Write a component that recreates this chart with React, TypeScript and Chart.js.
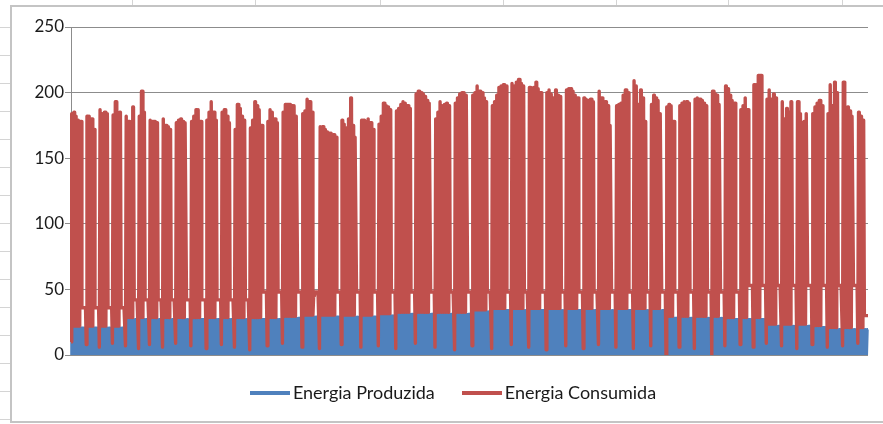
import React, { useEffect, useRef } from "react";
import { Chart, registerables } from "chart.js";

Chart.register(...registerables);

// Weekday daily peaks of consumption, one list per week
const consumoPicos: number[][] = [
  [184, 185, 182, 179, 178],
  [182, 182, 180, 172],
  [187, 184, 185, 184],
  [183, 193, 184, 185],
  [182, 178, 174, 189],
  [182, 201, 185],
  [179, 178, 178, 177],
  [180, 175, 174, 172],
  [177, 179, 180, 178, 177],
  [178, 182, 187, 187, 178],
  [179, 185, 193, 185, 179],
  [185, 187, 182, 177],
  [172, 191, 188, 182, 179],
  [173, 179, 193, 190, 187, 175],
  [178, 187, 185, 180, 177],
  [185, 191, 191, 191, 190, 190, 182],
  [184, 186, 195, 193, 185, 45],
  [174, 174, 172, 170, 169, 169, 168, 166],
  [179, 176, 173, 180, 196, 175, 166],
  [179, 179, 178, 180, 177, 172],
  [176, 182, 192, 190, 189, 187],
  [186, 188, 191, 193, 192, 190, 188],
  [199, 201, 200, 199, 197, 194, 192],
  [180, 185, 193, 190, 191, 192, 190],
  [192, 196, 199, 200, 200, 198],
  [198, 200, 205, 201, 200, 196, 193],
  [190, 193, 198, 204, 205, 206, 205],
  [207, 205, 208, 210, 207, 205],
  [204, 198, 204, 208, 203, 200],
  [200, 202, 199, 196, 202, 198, 197],
  [202, 203, 203, 201, 198, 196],
  [196, 195, 194, 195, 193],
  [201, 196, 193, 193, 190, 175],
  [190, 191, 192, 198, 202, 200],
  [209, 205, 191, 202, 196, 178],
  [191, 198, 196, 194, 184],
  [189, 191, 190, 178],
  [190, 192, 193, 193, 192],
  [195, 196, 195, 194, 192, 190],
  [201, 199, 198, 191],
  [205, 203, 198, 194, 192],
  [187, 190, 196, 187],
  [206, 206, 213, 213],
  [195, 202, 195, 199, 196],
  [193, 180, 188, 185, 193],
  [193, 184, 177, 178, 184],
  [184, 189, 192, 194, 190],
  [184, 206, 190, 208, 200],
  [208, 183, 189, 186, 182],
  [185, 182, 179],
];

// Weekday night consumption per week
const consumoVale: number[] = [
  22, 22, 22, 22, 28.5, 28.5, 28.5, 28.5, 28.5, 28.5, 28.5, 28.5, 28.5, 28.5, 28.5, 29.5, 30.5, 30.5, 30.5, 30.5,
  31.5, 32.5, 32.5, 32.5, 32.5, 34.5, 35.5, 35.5, 35.5, 35.5, 35.5, 35.5, 35.5, 35.5, 35.5, 35.5, 29.5, 29.5, 29.5, 29.5,
  28.5, 28.5, 28.5, 23.5, 23.5, 23.5, 22.5, 21, 21, 21,
];

// Deepest dip of consumption at the start of each week
const consumoMinimo: number[] = [
  10, 8, 6, 9, 7, 5, 8, 6, 9, 7, 5, 8, 6, 4, 7, 9, 6, 5, 8, 6,
  7, 5, 9, 6, 4, 7, 5, 8, 6, 4, 7, 5, 8, 6, 5, 7, 0, 6, 5, 0,
  7, 8, 6, 9, 7, 5, 8, 6, 7, 9,
];

// Weekend consumption level per week
const consumoFimSemana: number[] = [
  36, 36, 36, 36, 42, 42, 42, 42, 42, 42, 42, 42, 42, 48, 48, 48, 48, 48, 48, 48,
  48, 48, 48, 48, 48, 48, 48, 48, 48, 48, 48, 48, 48, 48, 48, 48, 48, 48, 48, 48,
  48, 53, 53, 53, 53, 53, 53, 53, 53, 30,
];

// Daily peak of produced energy per week
const producaoPico: number[] = [
  20.5, 20.5, 20.5, 20.5, 27, 27, 27, 27, 27, 27, 27, 27, 27, 27, 27, 28, 29, 29, 29, 29,
  30, 31, 31, 31, 31, 33, 34, 34, 34, 34, 34, 34, 34, 34, 34, 34, 28, 28, 28, 28,
  27, 27, 27, 22, 22, 22, 21, 19.5, 19.5, 19.5,
];

const yTicks: number[] = [0, 50, 100, 150, 200, 250];
const seriesNames: string[] = ["Energia Produzida", "Energia Consumida"];
const seriesColors: string[] = ["#4F81BD", "#C0504D"];

function buildSeries() {
  const consumo: number[] = [];
  const producao: number[] = [];
  consumoPicos.forEach((picos, w) => {
    picos.forEach((p, i) => {
      consumo.push(i === 0 ? consumoMinimo[w] : consumoVale[w], p, p);
    });
    for (let d = 0; d < 2; d++) {
      consumo.push(consumoFimSemana[w], consumoFimSemana[w], consumoFimSemana[w]);
    }
    for (let d = 0; d < picos.length + 2; d++) {
      producao.push(0, producaoPico[w], producaoPico[w]);
    }
  });
  return { consumo, producao };
}

function lineMarker(color: string): HTMLCanvasElement {
  const c = document.createElement("canvas");
  c.width = 40;
  c.height = 4;
  const g = c.getContext("2d");
  if (g) {
    g.fillStyle = color;
    g.fillRect(0, 0, 40, 4);
  }
  return c;
}

const legendShift = {
  id: "legendShift",
  afterLayout(chart: any) {
    const l = chart.legend;
    if (!l) return;
    l.left += 5;
    l.right += 5;
    l.top -= 4;
    l.bottom -= 4;
  },
};

export default function App() {
  const canvasRef = useRef<HTMLCanvasElement | null>(null);

  useEffect(() => {
    const canvas = canvasRef.current;
    if (!canvas) return;
    const { consumo, producao } = buildSeries();
    const labels = consumo.map((_, i) => String(i));
    const tickFont = { family: "Lato", size: 17 };
    const legendFont = { family: "Lato", size: 18 };
    const markers = [lineMarker(seriesColors[1]), lineMarker(seriesColors[0])];
    const chart = new Chart(canvas, {
      type: "line",
      data: {
        labels,
        datasets: [
          {
            label: seriesNames[1],
            data: consumo,
            borderColor: seriesColors[1],
            backgroundColor: seriesColors[1],
            borderWidth: 3.4,
            pointRadius: 0,
            borderJoinStyle: "round",
            tension: 0,
          },
          {
            label: seriesNames[0],
            data: producao,
            borderColor: seriesColors[0],
            backgroundColor: seriesColors[0],
            borderWidth: 3,
            pointRadius: 0,
            borderJoinStyle: "round",
            tension: 0,
          },
        ],
      },
      plugins: [legendShift],
      options: {
        responsive: false,
        animation: false,
        events: [],
        layout: { padding: { left: 34, right: 15, top: 27, bottom: 8 } },
        scales: {
          x: { display: false },
          y: {
            min: 0,
            max: 250,
            afterBuildTicks: (s: any) => {
              s.ticks = yTicks.map((v) => ({ value: v }));
            },
            afterFit: (s: any) => {
              s.width = 37;
            },
            ticks: { color: "#1a1a1a", font: tickFont, padding: 1 },
            grid: { color: "#8c8c8c", tickLength: 6, lineWidth: 1 },
            border: { color: "#8c8c8c" },
          },
        },
        plugins: {
          legend: {
            position: "bottom",
            reverse: true,
            labels: {
              usePointStyle: true,
              pointStyleWidth: 28,
              padding: 33,
              color: "#1a1a1a",
              font: legendFont,
              generateLabels: (c: any) =>
                (Chart.defaults.plugins.legend.labels as any)
                  .generateLabels(c)
                  .map((it: any) => ({ ...it, pointStyle: markers[it.datasetIndex] })),
            },
          },
          tooltip: { enabled: false },
        },
      } as any,
    });
    return () => chart.destroy();
  }, []);

  const colLines = [132, 255, 380, 503, 616, 728, 842];

  return (
    <div
      style={{
        position: "fixed",
        left: 0,
        top: 0,
        width: 883,
        height: 424,
        overflow: "hidden",
        backgroundColor: "#ffffff",
      }}
    >
      <div
        style={{
          position: "absolute",
          left: 0,
          top: 0,
          width: 10,
          height: 424,
          backgroundImage:
            "repeating-linear-gradient(to bottom, transparent 0px, transparent 27px, #d4d4d4 27px, #d4d4d4 28px)",
        }}
      />
      {colLines.map((x) => (
        <div
          key={x}
          style={{ position: "absolute", left: x, top: 0, width: 1, height: 5, backgroundColor: "#d4d4d4" }}
        />
      ))}
      <div
        style={{
          position: "absolute",
          left: 10,
          top: 5,
          width: 880,
          height: 418,
          boxSizing: "border-box",
          backgroundColor: "#ffffff",
          border: "2px solid #c4c4c4",
        }}
      />
      <canvas
        ref={canvasRef}
        width={883}
        height={424}
        style={{ position: "absolute", left: 0, top: 0, width: 883, height: 424 }}
      />
    </div>
  );
}
